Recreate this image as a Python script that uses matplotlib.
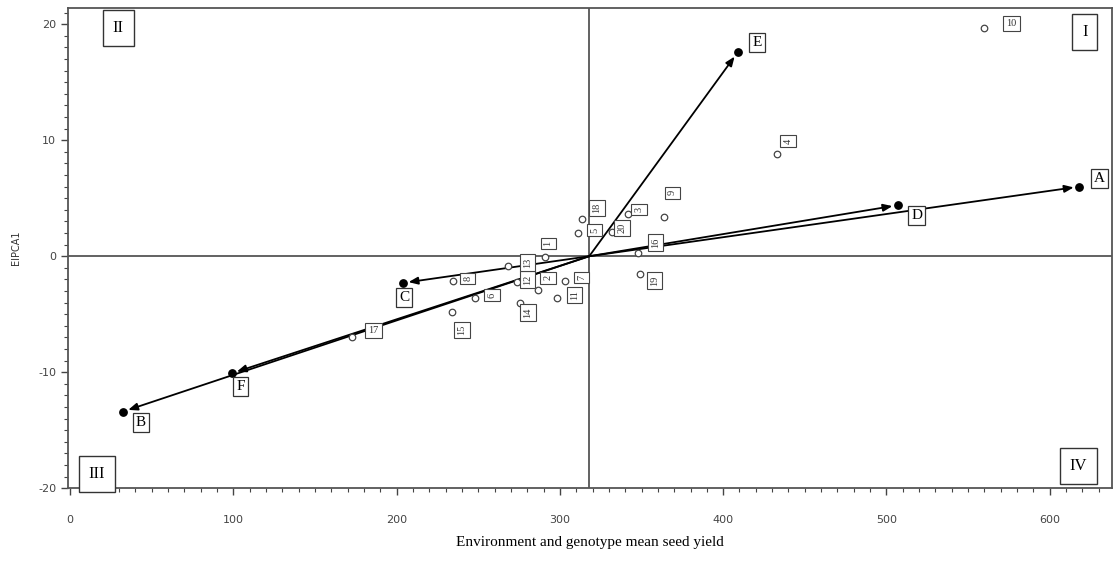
import matplotlib
matplotlib.use("Agg")
import matplotlib.pyplot as plt
from matplotlib.ticker import MultipleLocator

plt.rcParams["axes.unicode_minus"] = False

# environments (filled dots, vectors from the grand mean)
env_names = ["A", "B", "C", "D", "E", "F"]
env_yield = [618, 32.5, 204, 507, 409, 99]
env_ipca = [6.0, -13.4, -2.3, 4.4, 17.6, -10.1]

# genotypes (open circles)
geno_names = ["1", "2", "3", "4", "5", "6", "7", "8", "9", "10",
              "11", "12", "13", "14", "15", "16", "17", "18", "19", "20"]
geno_yield = [291, 286.6, 341.7, 433, 311, 248, 303, 234.5, 364, 560,
              298, 274, 268, 275.6, 234, 348, 173, 313.5, 349, 332]
geno_ipca = [-0.1, -2.9, 3.6, 8.8, 2.0, -3.6, -2.1, -2.1, 3.4, 19.7,
             -3.6, -2.2, -0.8, -4.0, -4.8, 0.3, -7.0, 3.2, -1.5, 2.1]

grand_mean = 318
quadrants = ["I", "II", "III", "IV"]

# label offsets in pixels (layout only)
env_off = {"A": (20, 8), "B": (18, -11), "C": (1, -15), "D": (19, -10),
           "E": (19, 10), "F": (9, -13)}
geno_off = {"1": (3, 14), "2": (10, 12), "3": (11, 5), "4": (11, 13),
            "5": (17, 3), "6": (17, 3), "7": (17, 3), "8": (15, 2),
            "9": (8, 24), "10": (27, 4), "11": (18, 3), "12": (10, 2),
            "13": (20, 3), "14": (8, -10), "15": (10, -18), "16": (17, 10),
            "17": (21, 7), "18": (15, 11), "19": (15, -7), "20": (10, 4)}
quad_pos = {"I": (0.974, 0.95), "II": (0.048, 0.958),
            "III": (0.028, 0.03), "IV": (0.968, 0.046)}

fig = plt.figure(figsize=(11.13, 5.73), dpi=100)
ax = fig.add_axes([0.061, 0.148, 0.938, 0.838])

ax.axhline(0, color="#555555", lw=1.3, zorder=1)
ax.axvline(grand_mean, color="#555555", lw=1.3, zorder=1)

for name, x, y in zip(env_names, env_yield, env_ipca):
    ax.annotate("", xy=(x, y), xytext=(grand_mean, 0),
                arrowprops=dict(arrowstyle="-|>,head_length=0.55,head_width=0.22",
                                color="black", lw=1.3, shrinkA=0, shrinkB=4),
                zorder=3)
ax.scatter(env_yield, env_ipca, s=28, color="black", zorder=4)
for name, x, y in zip(env_names, env_yield, env_ipca):
    dx, dy = env_off[name]
    ax.annotate(name, (x, y), xytext=(dx, dy), textcoords="offset pixels",
                ha="center", va="center", fontsize=11, family="Liberation Serif",
                bbox=dict(boxstyle="square,pad=0.2", fc="white", ec="#333333", lw=0.9),
                zorder=5)

ax.scatter(geno_yield, geno_ipca, s=22, facecolor="white", edgecolor="#444444",
           linewidths=0.9, zorder=4)
for name, x, y in zip(geno_names, geno_yield, geno_ipca):
    dx, dy = geno_off[name]
    rot = 0 if name in ("10", "17") else 90
    ax.annotate(name, (x, y), xytext=(dx, dy), textcoords="offset pixels",
                ha="center", va="center", fontsize=7.5, rotation=rot,
                family="Liberation Serif", color="#333333",
                bbox=dict(boxstyle="square,pad=0.3", fc="white", ec="#444444", lw=0.8),
                zorder=5)

for q in quadrants:
    qx, qy = quad_pos[q]
    ax.text(qx, qy, q, transform=ax.transAxes, ha="center", va="center",
            fontsize=12, family="Liberation Serif",
            bbox=dict(boxstyle="square,pad=0.6", fc="white", ec="#333333", lw=1.0),
            zorder=6)

ax.set_xlim(-1.2, 638)
ax.set_ylim(-20, 21.4)
ax.xaxis.set_major_locator(MultipleLocator(100))
ax.xaxis.set_minor_locator(MultipleLocator(10))
ax.yaxis.set_major_locator(MultipleLocator(10))
ax.yaxis.set_minor_locator(MultipleLocator(1))
ax.tick_params(which="major", length=5, width=1, color="#444444",
               labelsize=8, labelcolor="#444444")
ax.tick_params(which="minor", length=3, width=0.8, color="#444444")
ax.tick_params(axis="x", pad=14)
for s in ax.spines.values():
    s.set_color("#555555")
    s.set_linewidth(1.3)

ax.set_xlabel("Environment and genotype mean seed yield", family="Liberation Serif",
              fontsize=11, labelpad=8)
ax.set_ylabel("EIPCA1", fontsize=7, labelpad=12, color="#333333")

fig.savefig("out.png", dpi=100)
